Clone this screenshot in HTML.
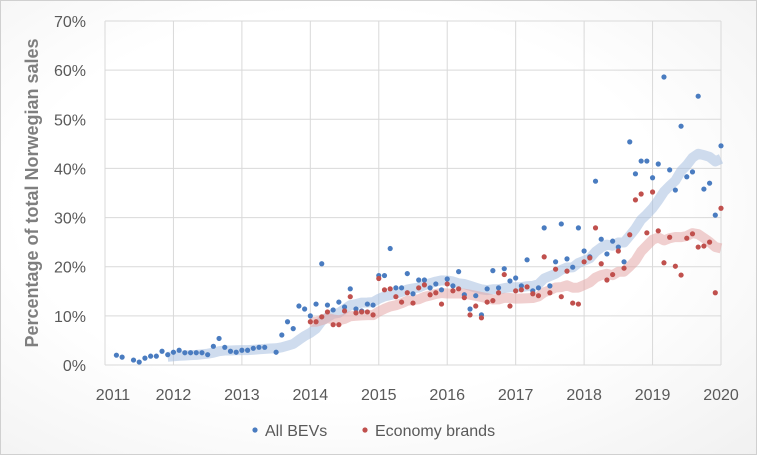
<!DOCTYPE html>
<html><head><meta charset="utf-8">
<style>
html,body{margin:0;padding:0;}
body{width:757px;height:455px;overflow:hidden;font-family:"Liberation Sans",sans-serif;}
#wrap{position:absolute;left:0;top:0;width:755px;height:453px;border:1px solid #d0d0d0;background:radial-gradient(ellipse at 45% 45%,#ffffff 55%,#f1f1f1 100%);}
svg{position:absolute;left:0;top:0;}
</style></head>
<body>
<div id="wrap">
<svg id="chart" width="757" height="455"></svg>
</div>
<script>
const yTicks=[0,10,20,30,40,50,60,70];
const xYears=[2011,2012,2013,2014,2015,2016,2017,2018,2019,2020];
const allBevStartMonth=2; // months after Jan 2011
const allBevs=[2.0,1.6,null,1.0,0.6,1.4,1.8,1.8,2.8,2.1,
2.6,3.0,2.5,2.5,2.5,2.5,2.1,3.8,5.4,3.6,2.8,2.6,
3.0,3.0,3.4,3.6,3.6,null,2.6,6.1,8.8,7.4,12.0,11.4,
10.0,12.4,20.6,12.2,11.2,12.8,11.8,15.5,11.4,11.0,12.4,12.2,
18.2,18.2,23.7,15.7,15.7,18.6,14.5,17.3,17.3,15.7,16.5,15.3,
17.5,16.1,19.0,14.3,11.4,14.1,10.2,15.5,19.2,15.7,19.6,17.1,
17.7,16.1,21.4,15.1,15.7,27.9,16.1,21.0,28.7,21.6,19.9,27.9,
23.2,22.0,37.4,25.6,22.6,25.2,24.0,21.0,45.4,38.9,41.5,41.5,
38.1,40.9,58.6,39.7,35.6,48.6,38.3,39.3,54.7,35.8,37.0,30.5,
44.6];
const economyStartMonth=36;
const economy=[8.8,8.8,9.8,10.8,8.2,8.2,11.0,13.9,10.6,10.8,10.8,10.2,
17.6,15.3,15.5,13.9,12.8,14.7,12.6,15.7,16.3,14.3,14.7,12.4,
16.5,15.1,15.5,13.7,10.2,12.0,9.6,12.8,13.1,14.7,18.4,12.0,
15.1,15.3,15.9,14.5,14.1,22.0,14.7,19.5,13.9,19.1,12.6,12.4,
21.0,21.8,27.9,20.6,17.3,18.4,23.2,19.7,26.5,33.6,34.8,26.9,
35.2,27.3,20.8,26.0,20.1,18.3,25.8,26.7,24.0,24.2,25.0,14.7,
31.9];

const L=104,R=720,T=20,B=364;
const xScale=m=>L+m*(R-L)/108;
const yScale=v=>B-v*(B-T)/70;
const NS="http://www.w3.org/2000/svg";
const svg=document.getElementById('chart');
function mk(tag,attrs,parent){const e=document.createElementNS(NS,tag);for(const k in attrs)e.setAttribute(k,attrs[k]);(parent||svg).appendChild(e);return e;}

yTicks.forEach(t=>{
  const l=mk('line',{x1:L,x2:R,y1:yScale(t),y2:yScale(t),stroke:'#d9d9d9','stroke-width':1});
  
  
  const tx=mk('text',{x:85,y:yScale(t)+6,'text-anchor':'end','font-size':16,fill:'#595959'});
  tx.textContent=t+'%';
  
  
});
xYears.forEach((yr,i)=>{
  const x=xScale((yr-2011)*12);
  const l=mk('line',{x1:x,x2:x,y1:T,y2:B,stroke:'#d9d9d9','stroke-width':1});
  
  
  const tx=mk('text',{x:i===0?Math.max(x,112):x,y:399,'text-anchor':'middle','font-size':16,fill:'#595959'});
  tx.textContent=yr;
  
  
});

function trend(vals,startIdx){
  const pts=[];
  for(let i=startIdx;i<vals.length;i++){
    const w=vals.slice(Math.max(0,i-11),i+1).filter(v=>v!==null);
    pts.push([i,w.reduce((a,b)=>a+b,0)/w.length]);
  }
  return pts;
}
function drawTrend(vals,startM,startIdx,color,name){
  const pts=trend(vals,startIdx);
  const d=pts.map((p,k)=>(k?'L':'M')+xScale(startM+p[0]).toFixed(1)+','+yScale(p[1]).toFixed(1)).join(' ');
  const p=mk('path',{d:d,fill:'none',stroke:color,'stroke-width':10,'stroke-linejoin':'round','stroke-linecap':'butt','stroke-opacity':0.55});
  
  
}
drawTrend(allBevs,allBevStartMonth,9,'#a7bfe0','all-bevs-trend-line');
drawTrend(economy,economyStartMonth,0,'#e3a8a7','economy-brands-trend-line');

function drawPoints(vals,startM,color,name){
  vals.forEach((v,i)=>{
    if(v===null)return;
    const c=mk('circle',{cx:xScale(startM+i),cy:yScale(v),r:2.6,fill:color});
    
    
  });
}
drawPoints(allBevs,allBevStartMonth,'#4a7cc0','all-bevs-point');
drawPoints(economy,economyStartMonth,'#c0504d','economy-brands-point');

const yt=mk('text',{x:0,y:0,transform:'translate(37,192) rotate(-90)','text-anchor':'middle','font-size':18,'font-weight':'bold',fill:'#7f7f7f'});
yt.textContent='Percentage of total Norwegian sales';



const lg=mk('g',{});


const c1=mk('circle',{cx:254,cy:429,r:2.6,fill:'#4a7cc0'},lg);


const t1=mk('text',{x:264,y:435,'font-size':16,fill:'#595959'},lg);
t1.textContent='All BEVs';


const c2=mk('circle',{cx:364,cy:429,r:2.6,fill:'#c0504d'},lg);


const t2=mk('text',{x:374,y:435,'font-size':16,fill:'#595959'},lg);
t2.textContent='Economy brands';


</script>
</body></html>
